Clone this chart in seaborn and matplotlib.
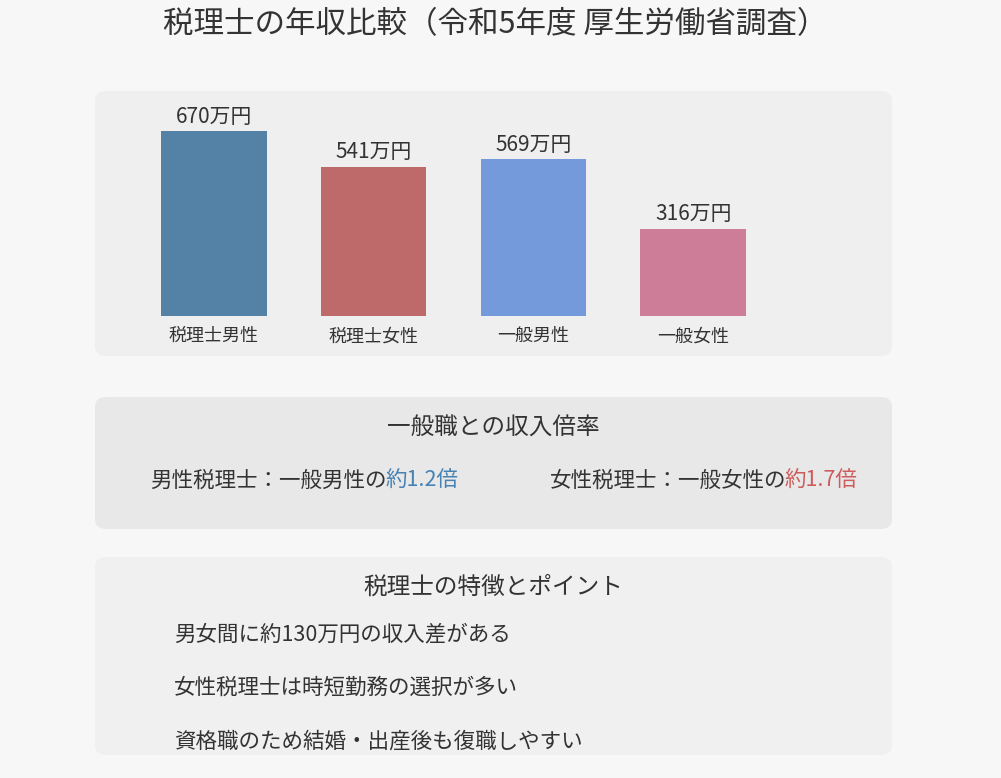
import matplotlib
matplotlib.use("Agg")
import matplotlib.pyplot as plt
import seaborn as sns
import pandas as pd
from matplotlib.patches import FancyBboxPatch

categories = ["税理士男性", "税理士女性", "一般男性", "一般女性"]
values = [670, 541, 569, 316]
colors = ["#4682b4", "#cd5c5c", "#6495ed", "#db7093"]
points = ["男女間に約130万円の収入差がある", "女性税理士は時短勤務の選択が多い", "資格職のため結婚・出産後も復職しやすい"]

plt.rcParams["font.family"] = "Noto Sans CJK JP"
W, H = 1001, 778
fig = plt.figure(figsize=(W/100, H/100), dpi=100, facecolor="#f7f7f7")

def px(x0, y0, x1, y1):
    return [x0/W, 1-y1/H, (x1-x0)/W, (y1-y0)/H]

def panel(x0, y0, x1, y1, c):
    fig.patches.append(FancyBboxPatch((x0/W, 1-y1/H), (x1-x0)/W, (y1-y0)/H,
        boxstyle="round,pad=0,rounding_size=0.012", transform=fig.transFigure,
        facecolor=c, edgecolor="none", zorder=0))

def t(x, y, s, **kw):
    fig.text(x/W, 1-y/H, s, ha=kw.pop("ha", "center"), va="center", zorder=3, **kw)

t(495, 25, "税理士の年収比較（令和5年度 厚生労働省調査）", fontsize=22, color="#333333")
panel(95, 91, 892, 356, "#efefef")
panel(95, 397, 892, 529, "#e8e8e8")
panel(95, 557, 892, 755, "#f0f0f0")

ax = fig.add_axes(px(134, 131, 773, 316))
ax.set_zorder(2)
df = pd.DataFrame({"cat": categories, "val": values})
sns.barplot(data=df, x="cat", y="val", hue="cat", palette=colors, width=0.66, ax=ax, legend=False)
ax.set_ylim(0, 670)
ax.patch.set_visible(False)
for s in ax.spines.values():
    s.set_visible(False)
ax.set_yticks([])
ax.set_xlabel(""); ax.set_ylabel("")
ax.tick_params(axis="x", length=0, labelsize=13, labelcolor="#333333", pad=8)
for i, v in enumerate(values):
    ax.text(i, v + 12, f"{v}万円", ha="center", va="bottom", fontsize=15, color="#333333", clip_on=False)

t(493, 427, "一般職との収入倍率", fontsize=17, color="#333333")
t(150, 481, "男性税理士：一般男性の", fontsize=15.5, color="#333333", ha="left")
t(385, 481, "約1.2倍", fontsize=15.5, color="#4682b4", ha="left")
t(550, 481, "女性税理士：一般女性の", fontsize=15.5, color="#333333", ha="left")
t(784, 481, "約1.7倍", fontsize=15.5, color="#cd5c5c", ha="left")

t(493, 587, "税理士の特徴とポイント", fontsize=17, color="#333333")
for i, p in enumerate(points):
    t(174, 634 + i*54, p, fontsize=15.5, color="#333333", ha="left")

fig.savefig("out.png", dpi=100, facecolor=fig.get_facecolor())
